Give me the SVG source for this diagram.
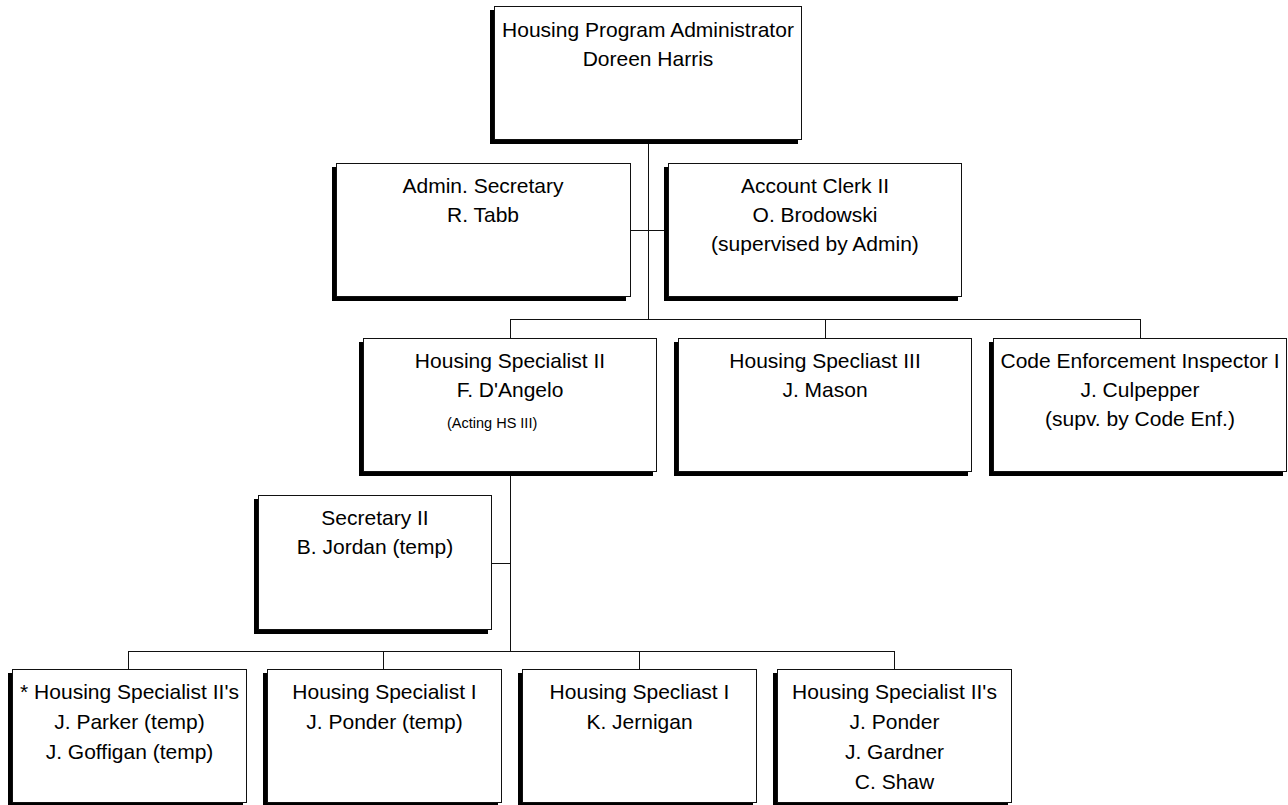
<svg xmlns="http://www.w3.org/2000/svg" width="1288" height="805" viewBox="0 0 1288 805">
<style>
.sh{fill:#000}
.bx{fill:#fff;stroke:#111;stroke-width:1}
.t{font-family:"Liberation Sans",Arial,sans-serif;font-size:21px;fill:#000;text-anchor:middle}
.s{font-family:"Liberation Sans",Arial,sans-serif;font-size:14.5px;fill:#000}
.c{fill:none;stroke:#111;stroke-width:1}
</style>
<rect width="1288" height="805" fill="#fff"/>
<g id="connectors">
<path class="c" d="M648.5,140 V319.5"/>
<path class="c" d="M630,230.5 H668"/>
<path class="c" d="M510.5,319.5 H1140.5 M510.5,319 V338 M825.5,319 V338 M1140.5,319 V338"/>
<path class="c" d="M510.5,472 V651.5"/>
<path class="c" d="M492,563.5 H510.5"/>
<path class="c" d="M128.5,651.5 H894.5 M128.5,651 V669 M383.5,651 V669 M639.5,651 V669 M894.5,651 V669"/>
</g>
<g id="n-admin-top">
<rect class="sh" x="490" y="10" width="308" height="134"/>
<rect class="bx" x="494.5" y="6.5" width="307" height="133"/>
<text class="t" x="648" y="37">Housing Program Administrator</text>
<text class="t" x="648" y="66">Doreen Harris</text>
</g>
<g id="n-admin-secretary">
<rect class="sh" x="332" y="167" width="294" height="134"/>
<rect class="bx" x="336.5" y="163.5" width="294" height="133"/>
<text class="t" x="483" y="193">Admin. Secretary</text>
<text class="t" x="483" y="222">R. Tabb</text>
</g>
<g id="n-account-clerk">
<rect class="sh" x="664" y="167" width="294" height="134"/>
<rect class="bx" x="668.5" y="163.5" width="293" height="133"/>
<text class="t" x="815" y="193">Account Clerk II</text>
<text class="t" x="815" y="222">O. Brodowski</text>
<text class="t" x="815" y="251">(supervised by Admin)</text>
</g>
<g id="n-hs2">
<rect class="sh" x="359" y="342" width="294" height="134"/>
<rect class="bx" x="363.5" y="338.5" width="293" height="133"/>
<text class="t" x="510" y="368">Housing Specialist II</text>
<text class="t" x="510" y="397">F. D'Angelo</text>
<text class="s" x="447" y="428">(Acting HS III)</text>
</g>
<g id="n-hs3">
<rect class="sh" x="674" y="342" width="294" height="134"/>
<rect class="bx" x="678.5" y="338.5" width="293" height="133"/>
<text class="t" x="825" y="368">Housing Specliast III</text>
<text class="t" x="825" y="397">J. Mason</text>
</g>
<g id="n-code">
<rect class="sh" x="989" y="342" width="294" height="134"/>
<rect class="bx" x="993.5" y="338.5" width="293" height="133"/>
<text class="t" x="1140" y="368">Code Enforcement Inspector I</text>
<text class="t" x="1140" y="397">J. Culpepper</text>
<text class="t" x="1140" y="426">(supv. by Code Enf.)</text>
</g>
<g id="n-secretary2">
<rect class="sh" x="254" y="499" width="234" height="135"/>
<rect class="bx" x="258.5" y="495.5" width="233" height="134"/>
<text class="t" x="375" y="525">Secretary II</text>
<text class="t" x="375" y="554">B. Jordan (temp)</text>
</g>
<g id="n-hs2-temps">
<rect class="sh" x="8" y="673" width="235" height="134"/>
<rect class="bx" x="12.5" y="669.5" width="234" height="133"/>
<text class="t" x="129.5" y="699">* Housing Specialist II's</text>
<text class="t" x="129.5" y="729">J. Parker (temp)</text>
<text class="t" x="129.5" y="759">J. Goffigan (temp)</text>
</g>
<g id="n-hs1-ponder">
<rect class="sh" x="263" y="673" width="235" height="134"/>
<rect class="bx" x="267.5" y="669.5" width="234" height="133"/>
<text class="t" x="384.5" y="699">Housing Specialist I</text>
<text class="t" x="384.5" y="729">J. Ponder (temp)</text>
</g>
<g id="n-hs1-jernigan">
<rect class="sh" x="518" y="673" width="235" height="134"/>
<rect class="bx" x="522.5" y="669.5" width="234" height="133"/>
<text class="t" x="639.5" y="699">Housing Specliast I</text>
<text class="t" x="639.5" y="729">K. Jernigan</text>
</g>
<g id="n-hs2-group">
<rect class="sh" x="773" y="673" width="235" height="134"/>
<rect class="bx" x="777.5" y="669.5" width="234" height="133"/>
<text class="t" x="894.5" y="699">Housing Specialist II's</text>
<text class="t" x="894.5" y="729">J. Ponder</text>
<text class="t" x="894.5" y="759">J. Gardner</text>
<text class="t" x="894.5" y="789">C. Shaw</text>
</g>
</svg>
